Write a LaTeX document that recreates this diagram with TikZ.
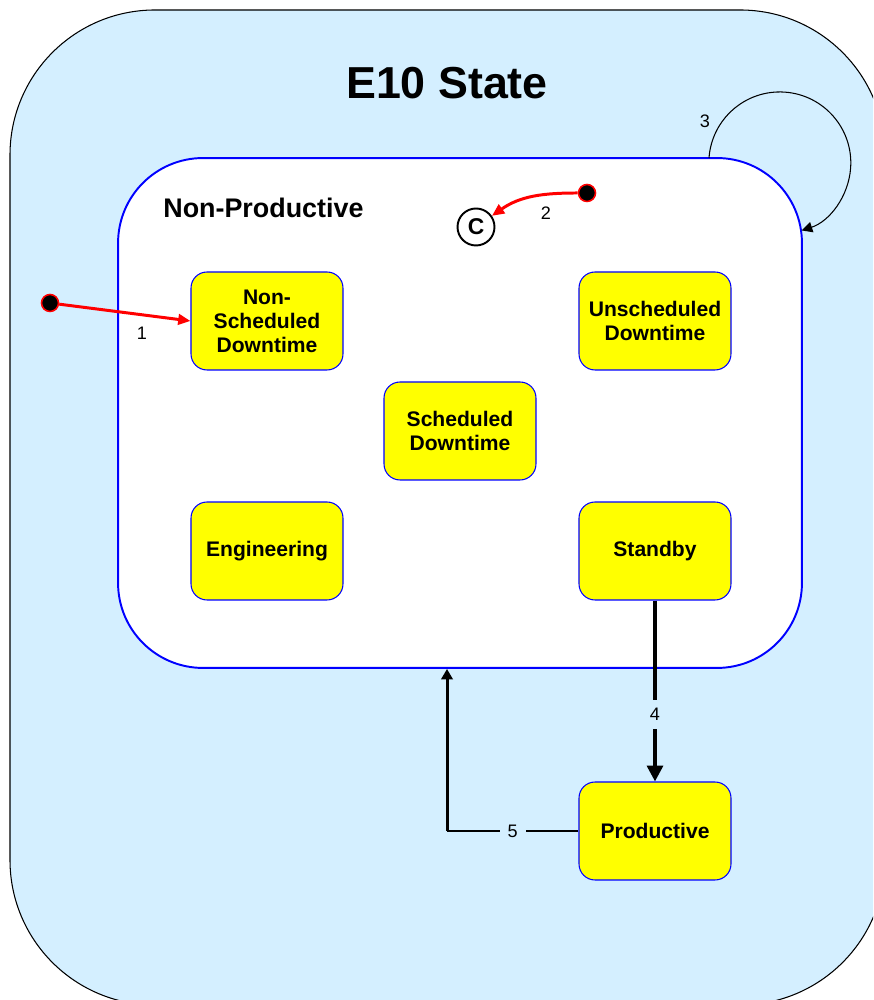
\documentclass[tikz,border=0pt]{standalone}
\usepackage{fontspec}
\setmainfont{Liberation Sans}
\usetikzlibrary{arrows.meta}
\definecolor{bgblue}{RGB}{212,239,255}
\definecolor{stateyellow}{RGB}{255,255,0}

\begin{document}
\begin{tikzpicture}[x=0.02cm, y=0.02cm,
    statebox/.style ={rectangle, rounded corners=0.32cm, draw=blue, line width=0.6pt, fill=stateyellow,
      minimum width=3.04cm, minimum height=1.96cm, align=center, font=\fontsize{12}{13.6}\selectfont\bfseries},
    region/.style ={rectangle, rounded corners=1.7cm, draw=blue, line width=1.1pt, fill=white,
      minimum width=13.68cm, minimum height=10.2cm},
    startdot/.style ={circle, draw=red, line width=0.9pt, fill=black, minimum size=0.34cm, inner sep=0pt},
    histnode/.style ={circle, draw, line width=1.1pt, fill=white, minimum size=0.74cm, inner sep=0pt,
      font=\fontsize{13}{13}\selectfont\bfseries},
    numtag/.style ={font=\fontsize{10.3}{12}\selectfont},
    gaptag/.style ={numtag, fill=bgblue, inner sep=4.5pt},
    redflow/.style ={draw=red, line width=1.7pt, -{Triangle[length=7pt,width=6pt]}},
    bigflow/.style ={line width=2pt, -{Triangle[length=9pt,width=9pt]}},
    backflow/.style ={line width=1.7pt, -{Triangle[length=6pt,width=6.5pt]}},
    loopflow/.style ={line width=0.6pt, -{Triangle[length=6pt,width=6pt]}}]
   \useasboundingbox (0,0) rectangle (873,1000);
   \begin{scope}
     \clip (0,0) rectangle (873,1000);
     \draw[fill=bgblue, line width=0.6pt, rounded corners=2.9cm] (10,990) rectangle (885,-5);
   \end{scope}

   \node[font=\fontsize{25.5}{30}\selectfont\bfseries] (title) at (447,917) {E10 State};
   \node[region] (np) at (460,587) {};
   \node[anchor=base west, inner sep=0pt, font=\fontsize{15.3}{18}\selectfont\bfseries] (nplabel) at (163,782) {Non-Productive};

   \node[statebox] (nsd) at (267,679) {Non-\\Scheduled\\Downtime};
   \node[statebox] (usd) at (655,679) {Unscheduled\\Downtime};
   \node[statebox] (sd) at (460,569) {Scheduled\\Downtime};
   \node[statebox] (eng) at (267,449) {Engineering};
   \node[statebox] (stb) at (655,449) {Standby};
   \node[statebox] (prod) at (655,169) {Productive};

   \node[startdot] (dot1) at (50,697) {};
   \node[startdot] (dot2) at (587,807) {};
   \node[histnode] (hist) at (476,773) {C};
   \coordinate (loopstart) at (709,842);
   \coordinate (turn) at (447,169);

   \draw[redflow] (dot1) to node[numtag, pos=0.63, below=3pt] {1} (nsd.west);
   \draw[redflow] (dot2) to[out=180, in=35] (hist);
   \node[numtag] (tag2) at (546,787) {2};
   \draw[loopflow] (loopstart) arc[start angle=176, end angle=-72, radius=1.42cm];
   \node[numtag] (tag3) at (705,879) {3};
   \draw[bigflow] (stb) to node[gaptag, pos=0.63] {4} (prod);
   \draw[line width=0.6pt] (prod.west) to node[gaptag, pos=0.5] {5} (turn);
   \draw[backflow] (turn) to (turn |- np.south);
 \end{tikzpicture}
\end{document}
